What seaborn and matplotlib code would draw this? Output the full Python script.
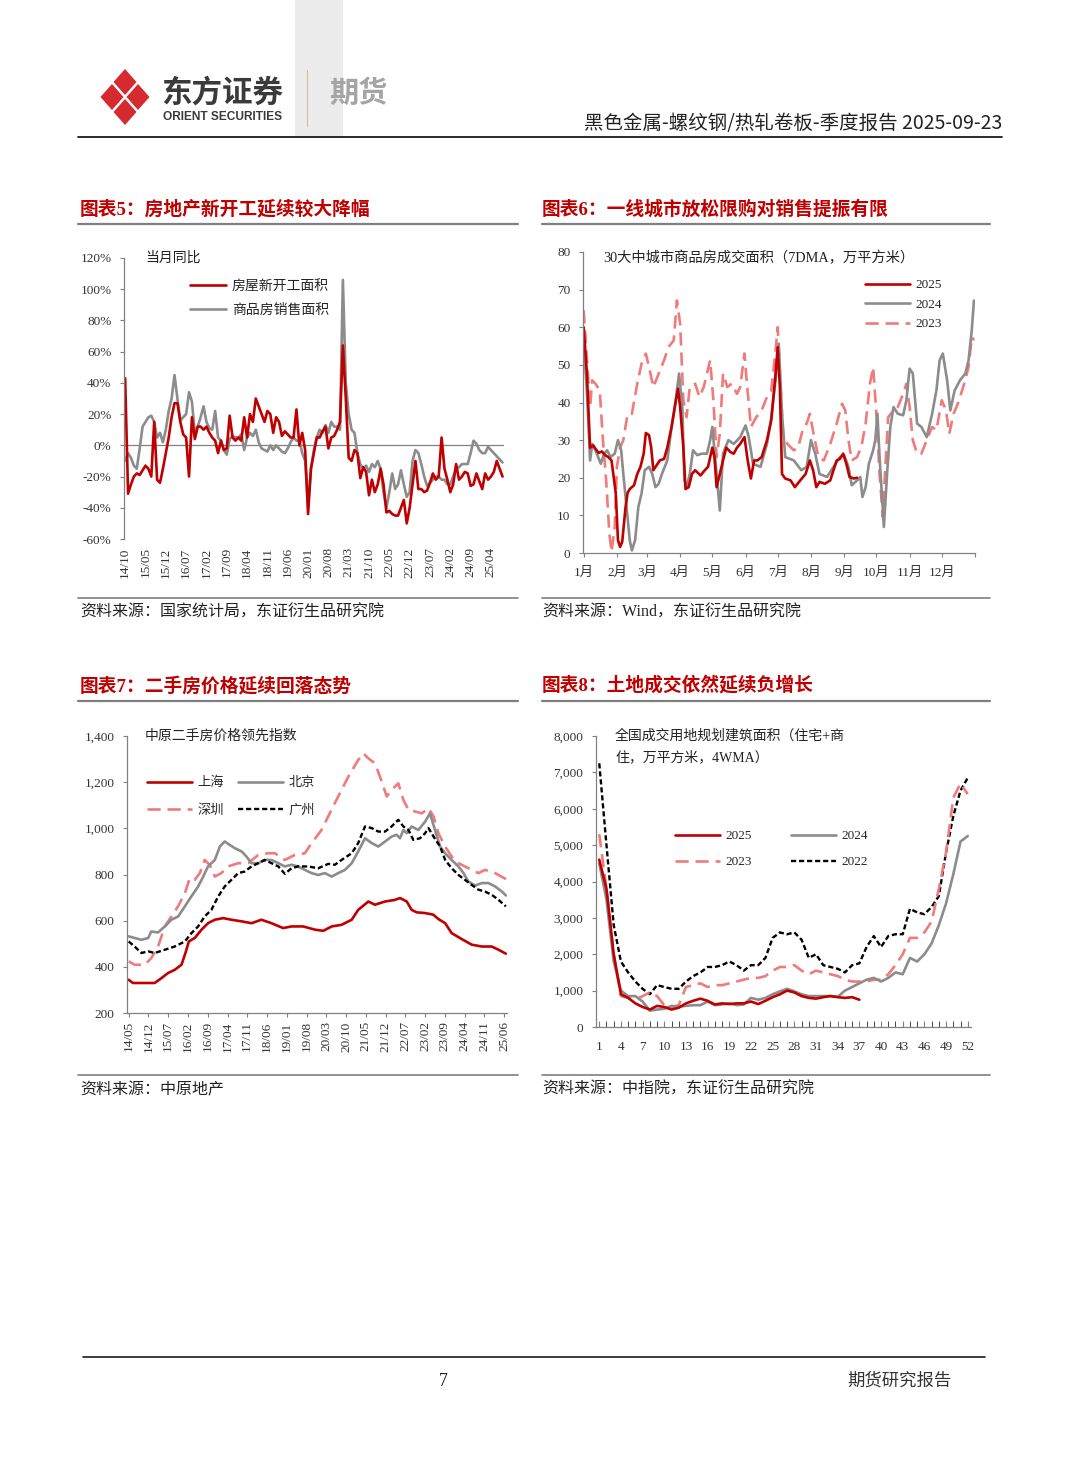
import numpy as np
import pandas as pd
import matplotlib
matplotlib.use('Agg')
import matplotlib.pyplot as plt
from matplotlib.patches import Polygon, Rectangle
from matplotlib.font_manager import FontProperties
from matplotlib.ticker import FuncFormatter, MultipleLocator
import seaborn as sns

sns.set_style('ticks')
MIX = ['Liberation Serif', 'Noto Sans CJK SC', 'DejaVu Sans']
CJK = ['Noto Sans CJK SC', 'DejaVu Sans']
plt.rcParams['font.family'] = MIX
plt.rcParams['axes.unicode_minus'] = False

RED = '#c00000'
GRAY = '#8c8c8c'
PINK = '#ef7b7b'
BLACK = '#000000'

# ---- 图表5: 当月同比 (monthly, 2014/10 .. 2025/08) ----
months5 = pd.period_range('2014-10', periods=131, freq='M')
new_starts = [43, -31, -25, -20, -18, -19, -16, -13, -15, -20,
              15, -22, -24, -15, -5, 5, 18, 27, 27, 15,
              7, 5, -20, 18, 4, 12, 12, 10, 12, 8,
              5, 3, -5, 3, -3, -2, 19, 5, 3, 5,
              3, 18, 5, 20, 15, 30, 25, 20, 15, 22,
              20, 8, 18, 15, 6, 9, 7, 5, 5, 23,
              0, 8, -3, -44, -15, -5, 5, 5, 9, 12,
              -2, 5, 6, 10, 15, 64, 30, -8, -10, -3,
              -5, -21, -14, -17, -32, -22, -30, -25, -15, -25,
              -43, -42, -44, -45, -45, -40, -35, -50, -40, -25,
              -10, -28, -28, -30, -29, -24, -18, -22, -20, 5,
              -15, -22, -30, -25, -12, -22, -20, -17, -18, -26,
              -25, -18, -23, -28, -18, -22, -20, -17, -10, -15,
              -20]
sales_area = [-10, -5, -8, -13, -15, -2, 12, 15, 18, 19,
              15, 5, 8, 2, 10, 22, 30, 45, 30, 16,
              18, 20, 34, 28, 8, 12, 18, 25, 15, 11,
              10, 22, 5, 3, -3, -6, 4, 6, 5, 5,
              7, -3, 5, 8, 6, 10, 2, -2, -3, -4,
              0, -3, 0, -2, -4, -5, -2, 2, 5, 3,
              3, -5, -10, -39, -15, -3, 5, 10, 8, 13,
              8, 15, 12, 12, 10, 106, 40, 20, 10, 8,
              -5, -12, -15, -13, -17, -12, -14, -10, -15, -30,
              -40, -30, -18, -28, -25, -16, -25, -33, -30, -10,
              -3, -5, -12, -20, -26, -24, -22, -20, -20, -22,
              -22, -25, -25, -20, -15, -14, -12, -12, -12, -5,
              3, 1, -3, -5, -5, -1, -3, -5, -7, -9,
              -11]

# ---- 图表6: 30大中城市成交面积 7DMA (day of year) ----
day25 = [0, 3, 6, 9, 11, 14, 17, 20, 23, 26, 30, 32, 34, 36, 39, 41, 43, 47, 50, 53,
         56, 58, 61, 63, 65, 68, 71, 75, 78, 82, 85, 88, 90, 93, 95, 98, 101, 104, 109, 113,
         116, 120, 122, 124, 127, 130, 133, 137, 140, 143, 146, 150, 153, 156, 159, 162, 166, 171, 175, 179,
         181, 183, 185, 188, 193, 197, 202, 207, 211, 214, 217, 220, 225, 230, 233, 236, 239, 242, 245, 248,
         252, 255]
val25 = [60, 48, 28, 28.6, 27.7, 26.6, 27, 26, 25.5, 24.6, 15.8, 3.4, 1.6, 3, 12, 16, 17, 18, 21, 22.9,
         26.4, 31.9, 31.3, 28, 22, 23.3, 24.6, 25, 28, 33.5, 38.8, 43.7, 38.8, 28, 17, 17.5, 21, 22, 20.6, 22,
         22.9, 28, 25.5, 17.5, 21, 24.6, 28, 26.8, 26.4, 28, 29, 30.8, 24.6, 19.8, 24.6, 24.6, 25.5, 30, 35.3, 47.7,
         54.7, 44, 21, 19.8, 19.3, 17.5, 19.3, 21, 24.6, 22, 17.5, 18.9, 18.4, 19.3, 22, 24.6, 25, 26.4, 23.7, 20.2,
         19.8, 20]
day24 = [0, 3, 6, 8, 11, 16, 19, 22, 25, 29, 32, 35, 37, 40, 43, 45, 48, 51, 54, 57,
         61, 64, 67, 70, 73, 78, 82, 85, 89, 92, 94, 96, 99, 102, 106, 110, 115, 118, 120, 124,
         127, 130, 135, 140, 146, 151, 154, 158, 165, 171, 175, 179, 182, 185, 188, 196, 203, 208, 212, 216,
         220, 227, 233, 239, 243, 247, 250, 255, 258, 260, 263, 266, 270, 272, 274, 276, 280, 283, 286, 289,
         293, 298, 301, 304, 307, 311, 315, 320, 325, 329, 332, 335, 339, 342, 346, 351, 356, 359, 362, 364]
val24 = [56.5, 43, 24.6, 29, 27.3, 23.7, 26.4, 27.3, 25.5, 26.4, 30, 27.3, 21, 12.2, 3.4, 0.7, 3.4, 12.2, 15.8, 22,
         22.9, 21, 17.5, 18.4, 21, 24.6, 33.5, 38.8, 47.7, 38.8, 19.3, 17.5, 21, 27.3, 26, 26.4, 26.4, 30, 33.5, 21,
         11.3, 26.4, 30, 29, 30.8, 33.9, 30.8, 23.7, 22.9, 29, 36, 45.9, 55.6, 37, 25.5, 24.6, 22, 22.9, 30, 26.4,
         21, 20.2, 22.9, 25.5, 26, 22.9, 18, 19.3, 20.2, 14.9, 17.5, 23.7, 27.3, 30, 37, 25.5, 6.9, 21, 33.5, 38.8,
         37, 36.6, 40.6, 49, 47.7, 34.4, 33.5, 30.8, 37, 43.2, 51.2, 53, 45.9, 37.9, 43.2, 45.9, 47.7, 51.2, 59.2, 67.1]
day23 = [0, 3, 6, 8, 11, 15, 18, 21, 24, 26, 29, 31, 34, 37, 41, 45, 50, 54, 58, 61,
         65, 70, 75, 79, 84, 87, 90, 93, 96, 99, 104, 108, 112, 115, 118, 121, 124, 127, 130, 134,
         138, 143, 146, 150, 152, 156, 161, 166, 171, 175, 179, 181, 183, 186, 190, 196, 200, 205, 208, 211,
         215, 219, 224, 230, 236, 241, 244, 247, 250, 255, 259, 263, 267, 270, 273, 276, 279, 281, 284, 289,
         293, 298, 301, 304, 307, 311, 315, 320, 325, 329, 334, 338, 341, 345, 349, 354, 359, 362, 364]
val23 = [64.5, 52, 38.8, 45.9, 45, 43.2, 30, 19.3, 5.1, 0.3, 6.9, 22.9, 28, 30, 37, 37, 45, 50.3, 53, 49.4,
         44.1, 47.7, 51.2, 54.7, 56.5, 67.1, 60.9, 40.6, 36.1, 44.1, 45, 41.5, 44.1, 47.7, 51.2, 40.6, 25.5, 31.7, 47.7, 44.1,
         45, 42.3, 44.1, 53, 45.9, 33.5, 36.1, 37.9, 41.5, 43.2, 53.9, 60, 47.7, 31.7, 29, 27.3, 28, 33.5, 34.4, 37,
         30.8, 25.5, 24.6, 29, 34.4, 39.7, 37.9, 30, 24.6, 25.5, 28.2, 34.4, 45, 49.4, 37, 21, 9.6, 21, 36.1, 37.9,
         38.8, 42.3, 45, 38.8, 30, 26.4, 26.4, 30, 33.5, 32.6, 40.6, 37.9, 31.7, 37, 39.7, 44.1, 49.4, 57.4, 56.5]
month_starts = [0, 31, 59, 90, 120, 151, 181, 212, 243, 273, 304, 334, 365]
month_labels = ['1月', '2月', '3月', '4月', '5月', '6月', '7月', '8月', '9月', '10月', '11月', '12月', '']

# ---- 图表7: 中原二手房价格领先指数 (months after 2014/05) ----
months7 = pd.period_range('2014-05', periods=134, freq='M')
sh_m = [0, 1.5, 4.5, 9.2, 11.6, 13.9, 16.3, 18.7, 20.1, 21.3, 23.4, 25.8, 28.1, 30.5, 33.5, 36.4, 40, 43.5, 47, 50.6,
        54.7, 57.7, 61.8, 66, 68.9, 71.9, 75.4, 79, 81.3, 84.9, 87.2, 90.8, 94.3, 96.1, 98.5, 100.2, 102, 105, 107.9, 109.7,
        112.1, 114.4, 118, 121.5, 125.1, 128.6, 131, 133.6]
sh_v = [344, 330, 330, 330, 351, 373, 387, 409, 460, 510, 525, 561, 589, 604, 611, 604, 597, 589, 604, 589,
        568, 575, 575, 561, 556, 575, 582, 604, 647, 683, 669, 683, 690, 698, 683, 647, 636, 633, 626, 607,
        589, 546, 520, 496, 488, 488, 474, 457]
bj_m = [0, 2.1, 4.5, 6.9, 8.0, 10.4, 12.8, 15.1, 17.5, 19.9, 22.2, 24.6, 26.4, 28.1, 30.5, 32.3, 34, 35.8, 37.6, 40,
        41.7, 43.5, 45.9, 48.2, 50.6, 53, 55.3, 57.7, 60, 62.4, 64.8, 67.1, 69.5, 71.9, 74.2, 76.6, 79, 81.3, 83.7, 86.1,
        88.4, 90.8, 93.1, 94.9, 96.1, 97.3, 98.5, 100.2, 102.6, 105, 106.7, 108.5, 110.3, 112.1, 114.4, 116.8, 118.6, 120.3, 122.7, 125.1,
        127.4, 129.8, 132.2, 133.6]
bj_v = [532, 525, 517, 525, 553, 549, 575, 604, 618, 662, 705, 748, 791, 835, 863, 921, 943, 928, 914, 900,
        878, 849, 849, 863, 863, 849, 835, 842, 835, 820, 806, 798, 806, 791, 806, 820, 849, 900, 957, 936,
        921, 943, 964, 972, 957, 993, 979, 1008, 993, 1029, 1065, 993, 921, 892, 863, 835, 806, 770, 752, 763,
        763, 748, 726, 709]
sz_m = [0, 2.1, 5.7, 8, 10.4, 12.8, 15.1, 17.5, 19.9, 21.6, 23.4, 25.2, 26.9, 28.7, 30.5, 32.8, 35.2, 38.8, 42.3, 45.9,
        49.4, 51.8, 55.3, 58.9, 62.4, 64.8, 68.3, 73, 77.8, 81.3, 83.1, 84.9, 87.2, 89, 91.4, 93.1, 95.5, 97.3, 99.1, 101.5,
        103.8, 106.2, 108, 109.7, 112.1, 114.4, 116.8, 119.1, 121.5, 123.9, 126.2, 129.8, 133.6]
sz_v = [424, 409, 409, 438, 488, 575, 618, 662, 719, 784, 777, 806, 863, 842, 791, 806, 835, 849, 849, 885,
        892, 892, 863, 885, 892, 936, 993, 1109, 1224, 1296, 1325, 1303, 1282, 1224, 1138, 1166, 1195, 1123, 1080, 1073,
        1065, 1087, 1051, 979, 921, 878, 849, 835, 820, 806, 820, 806, 780]
gz_m = [0, 2.1, 4.5, 6.9, 9.2, 12.8, 16.3, 19.9, 22.2, 24.6, 26.9, 29.3, 31.7, 34, 36.4, 38.8, 41.1, 43.5, 45.9, 48.2,
        50.6, 53, 55.3, 57.7, 60, 63.6, 67.1, 70.7, 73, 75.4, 79, 81.3, 83.7, 86.1, 88.4, 90.8, 93.1, 95.5, 97.3, 99.1,
        100.8, 103.2, 105, 106.2, 108, 110.3, 112.1, 114.4, 116.8, 119.1, 121.5, 123.9, 126.2, 128.6, 131, 133.6]
gz_v = [510, 488, 460, 467, 460, 474, 488, 510, 546, 575, 618, 647, 705, 748, 777, 806, 813, 835, 849, 863,
        849, 835, 803, 827, 835, 835, 827, 846, 842, 863, 892, 936, 1008, 1001, 986, 986, 1008, 1037, 1008, 993,
        950, 957, 979, 1001, 964, 921, 863, 827, 798, 777, 755, 734, 726, 712, 690, 662]

# ---- 图表8: 全国成交用地规划建筑面积 4WMA (week) ----
weeks = list(range(1, 53))
land25 = [4600, 3800, 2000, 900, 800, 650, 550, 480, 580, 550, 480, 530, 650, 720, 780, 720, 620, 650, 630, 650,
          650, 700, 630, 720, 820, 900, 1000, 950, 850, 800, 780, 820, 850, 820, 800, 820, 750]
land24 = [4500, 3500, 1800, 1000, 850, 850, 700, 450, 480, 500, 580, 560, 580, 600, 600, 700, 600, 620, 650, 600,
          620, 800, 750, 800, 900, 980, 1050, 980, 900, 850, 850, 850, 850, 830, 1000, 1100, 1200, 1300, 1350, 1250,
          1350, 1500, 1450, 1900, 1800, 2000, 2300, 2800, 3400, 4200, 5100, 5250]
land23 = [5300, 3800, 2000, 850, 800, 750, 850, 950, 850, 600, 550, 600, 1100, 1150, 1200, 1100, 1150, 1150, 1200, 1250,
          1300, 1350, 1350, 1400, 1550, 1650, 1650, 1700, 1550, 1450, 1550, 1500, 1450, 1400, 1300, 1250, 1250, 1250, 1300, 1300,
          1450, 1700, 2000, 2450, 2450, 2600, 2900, 3800, 4800, 6300, 6700, 6400]
land22 = [7250, 5000, 2800, 1800, 1500, 1250, 1050, 900, 1150, 1100, 1050, 1050, 1250, 1400, 1500, 1650, 1650, 1700, 1800, 1700,
          1550, 1700, 1700, 1900, 2450, 2600, 2550, 2600, 2400, 1900, 2000, 1700, 1650, 1600, 1500, 1700, 1750, 2200, 2500, 2200,
          2500, 2550, 2550, 3250, 3150, 3100, 3300, 3600, 4800, 5800, 6500, 6850]

W, H = 1080, 1466
fig = plt.figure(figsize=(W / 100, H / 100), dpi=100)
page = fig.add_axes([0, 0, 1, 1], zorder=0)
page.set_xlim(0, W)
page.set_ylim(H, 0)
page.axis('off')


def box(l, t, r, b):
    return [l / W, 1 - b / H, (r - l) / W, (b - t) / H]


def fig_pt(x, y):
    return (x / W, 1 - y / H)


def style(ax):
    sns.despine(ax=ax)
    for s in ['left', 'bottom']:
        ax.spines[s].set_color('#808080')
        ax.spines[s].set_linewidth(0.9)
    ax.tick_params(color='#808080', labelcolor='#333333', labelsize=9.5, length=3, width=0.8)
    ax.tick_params(axis='y', pad=6)
    ax.set_xlabel('')
    ax.set_ylabel('')
    ax.patch.set_alpha(0)


def add_legend(ax, order, x, y, size, **kw):
    h, l = ax.get_legend_handles_labels()
    lut = dict(zip(l, h))
    ax.legend([lut[k] for k in order], order, loc='upper left', bbox_to_anchor=fig_pt(x, y),
              bbox_transform=fig.transFigure, frameon=False, borderpad=0, borderaxespad=0,
              prop=FontProperties(family=MIX, size=size), handletextpad=0.4, **kw)


# ---------------- page decorations ----------------
page.add_patch(Rectangle((295, 0), 48, 137, color='#ececec', lw=0))
page.plot([78, 1002], [137, 137], color='#1a1a1a', lw=1.3)
logo_c = [(125, 82), (125, 112), (112, 97), (138, 97)]
for cx, cy in logo_c:
    page.add_patch(Polygon([(cx, cy - 13), (cx + 11.5, cy), (cx, cy + 13), (cx - 11.5, cy)],
                           closed=True, color='#d42a30', lw=0))
page.text(161, 93, '东方证券', family=CJK, fontsize=22, fontweight='bold', color='#3a3a3a', va='center')
page.text(163, 117, 'ORIENT SECURITIES', family=['Liberation Sans'], fontsize=8.6, fontweight='bold',
          color='#3a3a3a', va='center')
page.plot([307, 307], [70, 126], color='#cdbf9f', lw=0.8)
page.text(329, 93, '期货', family=CJK, fontsize=21, fontweight='bold', color='#a5a5a5', va='center')
page.text(1002, 124, '黑色金属-螺纹钢/热轧卷板-季度报告 2025-09-23', family=CJK, fontsize=14,
          color='#222222', ha='right', va='center')

titles = [(80, 209, '图表5：房地产新开工延续较大降幅'), (542, 209, '图表6：一线城市放松限购对销售提振有限'),
          (80, 686, '图表7：二手房价格延续回落态势'), (542, 686, '图表8：土地成交依然延续负增长')]
for x, y, t in titles:
    page.text(x, y, t, family=MIX, fontsize=13.5, fontweight='bold', color=RED, va='center')
sources = [(80, 613, '资料来源：国家统计局，东证衍生品研究院'), (542, 613, '资料来源：Wind，东证衍生品研究院'),
           (80, 1090, '资料来源：中原地产'), (542, 1090, '资料来源：中指院，东证衍生品研究院')]
for x, y, t in sources:
    page.text(x, y, t, family=MIX, fontsize=11.5, color='#222222', va='center')
for y in (224, 701):
    page.plot([78, 518], [y, y], color='#7f7f7f', lw=1.6)
    page.plot([542, 990], [y, y], color='#7f7f7f', lw=1.6)
for y in (598, 1075):
    page.plot([78, 518], [y, y], color='#7f7f7f', lw=1.2)
    page.plot([542, 990], [y, y], color='#7f7f7f', lw=1.2)
page.plot([83, 985], [1357, 1357], color='#1a1a1a', lw=1.2)
page.text(443, 1381, '7', family=MIX, fontsize=13, color='#222222', ha='center', va='center')
page.text(952, 1381, '期货研究报告', family=CJK, fontsize=12.5, color='#333333', ha='right', va='center')

# ---------------- 图表5 ----------------
ax5 = fig.add_axes(box(124, 258, 504, 539))
idx5 = np.arange(len(months5))
sns.lineplot(x=idx5, y=sales_area, ax=ax5, color=GRAY, lw=1.9, label='商品房销售面积')
sns.lineplot(x=idx5, y=new_starts, ax=ax5, color=RED, lw=1.9, label='房屋新开工面积')
style(ax5)
ax5.spines['bottom'].set_visible(False)
ax5.axhline(0, color='#808080', lw=0.9, zorder=1)
ax5.set_ylim(-60, 120)
ax5.set_yticks(np.arange(-60, 121, 20))
ax5.yaxis.set_major_formatter(FuncFormatter(lambda v, p: f'{v:.0f}%'))
ax5.set_xlim(-0.4, 130.5)
ax5.set_xticks(idx5[::7])
ax5.set_xticklabels([p.strftime('%y/%m') for p in months5[::7]], rotation=90)
ax5.tick_params(axis='x', length=0, pad=6, labelsize=9.5)
page.text(145, 258, '当月同比', family=MIX, fontsize=10, color='#222222', va='center')
add_legend(ax5, ['房屋新开工面积', '商品房销售面积'], 190, 280, 10, handlelength=2.6, labelspacing=0.75)

# ---------------- 图表6 ----------------
ax6 = fig.add_axes(box(583, 252, 975, 553))
sns.lineplot(x=day23, y=val23, ax=ax6, color=PINK, lw=1.9, linestyle=(0, (5, 2.6)), label='2023')
sns.lineplot(x=day24, y=val24, ax=ax6, color=GRAY, lw=1.9, label='2024')
sns.lineplot(x=day25, y=val25, ax=ax6, color=RED, lw=1.9, label='2025')
style(ax6)
ax6.set_ylim(0, 80)
ax6.set_yticks(np.arange(0, 81, 10))
ax6.set_xlim(-0.6, 365)
ax6.set_xticks(month_starts)
ax6.set_xticklabels(month_labels)
ax6.tick_params(axis='x', pad=7, labelsize=9.5)
page.text(603, 258, '30大中城市商品房成交面积（7DMA，万平方米）', family=MIX, fontsize=10.3, color='#222222',
          va='center')
add_legend(ax6, ['2025', '2024', '2023'], 865, 279, 9.5, handlelength=3.4, labelspacing=0.55)

# ---------------- 图表7 ----------------
ax7 = fig.add_axes(box(127, 736, 507, 1013))
sns.lineplot(x=sz_m, y=sz_v, ax=ax7, color=PINK, lw=1.9, linestyle=(0, (5, 2.6)), label='深圳')
sns.lineplot(x=bj_m, y=bj_v, ax=ax7, color=GRAY, lw=1.9, label='北京')
sns.lineplot(x=gz_m, y=gz_v, ax=ax7, color=BLACK, lw=1.7, linestyle=(0, (2.2, 1.2)), label='广州')
sns.lineplot(x=sh_m, y=sh_v, ax=ax7, color=RED, lw=1.9, label='上海')
style(ax7)
ax7.set_ylim(200, 1400)
ax7.set_yticks(np.arange(200, 1401, 200))
ax7.yaxis.set_major_formatter(FuncFormatter(lambda v, p: f'{v:,.0f}'))
ax7.set_xlim(-0.6, 134)
ax7.set_xticks(np.arange(len(months7))[::7])
ax7.set_xticklabels([p.strftime('%y/%m') for p in months7[::7]], rotation=90)
ax7.tick_params(axis='x', pad=3, labelsize=9.5)
page.text(145, 736, '中原二手房价格领先指数', family=MIX, fontsize=10, color='#222222', va='center')
add_legend(ax7, ['上海', '深圳', '北京', '广州'], 147, 777, 9.5, ncol=2, handlelength=3.4,
           labelspacing=1.1, columnspacing=1.1)

# ---------------- 图表8 ----------------
ax8 = fig.add_axes(box(596, 736, 971, 1027))
sns.lineplot(x=weeks, y=land22, ax=ax8, color=BLACK, lw=1.7, linestyle=(0, (2.2, 1.2)), label='2022')
sns.lineplot(x=weeks, y=land23, ax=ax8, color=PINK, lw=1.9, linestyle=(0, (5, 2.6)), label='2023')
sns.lineplot(x=weeks, y=land24, ax=ax8, color=GRAY, lw=1.9, label='2024')
sns.lineplot(x=weeks[:len(land25)], y=land25, ax=ax8, color=RED, lw=1.9, label='2025')
style(ax8)
ax8.set_ylim(0, 8000)
ax8.set_yticks(np.arange(0, 8001, 1000))
ax8.yaxis.set_major_formatter(FuncFormatter(lambda v, p: f'{v:,.0f}'))
ax8.set_xlim(0.55, 52.45)
ax8.set_xticks(weeks[::3])
ax8.xaxis.set_minor_locator(MultipleLocator(1))
ax8.tick_params(axis='x', which='both', direction='in', length=4, pad=10, labelsize=9.5)
page.text(615, 736, '全国成交用地规划建筑面积（住宅+商', family=MIX, fontsize=10, color='#222222', va='center')
page.text(615, 757, '住，万平方米，4WMA）', family=MIX, fontsize=10, color='#222222', va='center')
add_legend(ax8, ['2025', '2023', '2024', '2022'], 675, 830, 9.5, ncol=2, handlelength=3.4,
           labelspacing=1.05, columnspacing=3.0)

fig.savefig('out.png', dpi=100)
